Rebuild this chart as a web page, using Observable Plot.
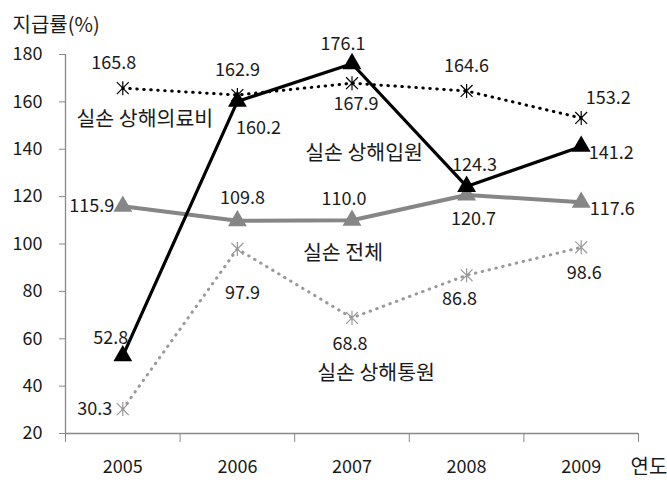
<!DOCTYPE html>
<html><head><meta charset="utf-8">
<script src="https://cdn.jsdelivr.net/npm/d3@7"></script>
<script src="https://cdn.jsdelivr.net/npm/@observablehq/plot@0.6"></script>
<style>body{margin:0;background:#fff}</style>
</head><body><div id="chart"></div>
<script>
// ---- data ----
const years = [2005, 2006, 2007, 2008, 2009];
const seriesNames = ["실손 상해의료비", "실손 상해입원", "실손 전체", "실손 상해통원"];
const medical = [165.8, 162.9, 167.9, 164.6, 153.2];
const inpatient = [52.8, 160.2, 176.1, 124.3, 141.2];
const total = [115.9, 109.8, 110.0, 120.7, 117.6];
const outpatient = [30.3, 97.9, 68.8, 86.8, 98.6];
const yTicks = [20, 40, 60, 80, 100, 120, 140, 160, 180];
const yTitle = "지급률(%)";
const xTitle = "연도";

// ---- presentation (label offsets, styles) ----
const valueOffsets = [
  [[-9,-25],[0,-25],[4,21],[0,-25],[27,-20]],
  [[-12,-18],[21,27],[-9,-20],[8,-21],[30,7]],
  [[-31,0],[5,-23],[-8,-21],[7,24],[31,7]],
  [[-28,0],[5,44],[-2,26],[-7,24],[3,26]]
];
const nameAnchors = [[0, 22, 31], [2, 12, 90], [2, -9, 33], [2, 24, 56]]; // [index, dx, dy]

// Excel-like star marker: X plus vertical stroke
const starSymbol = {
  draw(context, size) {
    const r = Math.sqrt(size / Math.PI);
    const d = r * 0.85;
    context.moveTo(0, -r); context.lineTo(0, r);
    context.moveTo(-d, -d); context.lineTo(d, d);
    context.moveTo(-d, d); context.lineTo(d, -d);
  }
};

const styles = [
  {stroke: "#000", width: 3, dash: "0.5 6.5", symbol: starSymbol, r: 7, fill: "none", mstroke: "#000"},
  {stroke: "#000", width: 3.2, dash: null, symbol: "triangle", r: 7, fill: "#000", mstroke: "none"},
  {stroke: "#868686", width: 4, dash: null, symbol: "triangle", r: 7, fill: "#868686", mstroke: "none"},
  {stroke: "#9a9a9a", width: 3, dash: "0.5 6.5", symbol: starSymbol, r: 7, fill: "none", mstroke: "#9a9a9a"}
];

const seriesValues = [medical, inpatient, total, outpatient];
const tables = seriesValues.map((vals, s) => years.map((yr, i) => ({year: yr, value: vals[i], series: seriesNames[s]})));
const boundaries = [...years.map(y => y - 0.5), years[years.length - 1] + 0.5];

const textColor = "#1a1a1a";
const marks = [];
// axis lines
marks.push(Plot.ruleY([yTicks[0]], {stroke: "#888", strokeWidth: 1.3}));
marks.push(Plot.ruleX([boundaries[0]], {stroke: "#888", strokeWidth: 1.3}));
marks.push(Plot.axisY({ticks: yTicks, tickSize: 6, tickPadding: 17, fontSize: 18, stroke: "#888", color: textColor, label: null}));
marks.push(Plot.axisX({ticks: boundaries, tickSize: 9, tickFormat: () => "", stroke: "#888", label: null}));
marks.push(Plot.axisX({ticks: years, tickSize: 0, tickPadding: 27, tickFormat: d => String(d), fontSize: 18, color: textColor, label: null}));

// draw order: outpatient, total, medical, inpatient
[3, 2, 0, 1].forEach(s => {
  const st = styles[s];
  marks.push(Plot.line(tables[s], {x: "year", y: "value", stroke: st.stroke, strokeWidth: st.width,
    strokeDasharray: st.dash, strokeLinecap: st.dash ? "round" : "butt", strokeLinejoin: "miter"}));
  marks.push(Plot.dot(tables[s], {x: "year", y: "value", symbol: st.symbol, r: st.r,
    fill: st.fill, stroke: st.mstroke, strokeWidth: 1.2}));
});

// value labels
tables.forEach((tbl, s) => {
  tbl.forEach((d, i) => {
    const [dx, dy] = valueOffsets[s][i];
    marks.push(Plot.text([d], {x: "year", y: "value", text: dd => dd.value.toFixed(1), dx, dy,
      fontSize: 18, fill: textColor}));
  });
});

// series names
nameAnchors.forEach(([i, dx, dy], s) => {
  marks.push(Plot.text([tables[s][i]], {x: "year", y: "value", text: "series", dx, dy,
    fontSize: 20.5, fill: textColor}));
});

// titles
marks.push(Plot.text([yTitle], {frameAnchor: "top-left", text: d => d, dx: -53, dy: -29, textAnchor: "start", fontSize: 20, fill: textColor, lineAnchor: "middle"}));
marks.push(Plot.text([xTitle], {frameAnchor: "bottom-right", text: d => d, dx: -8, dy: 34, textAnchor: "start", fontSize: 20, fill: textColor, lineAnchor: "middle"}));

const chart = Plot.plot({
  width: 667,
  height: 480,
  marginLeft: 65,
  marginRight: 29,
  marginTop: 54,
  marginBottom: 47,
  style: {fontFamily: "'Noto Sans CJK KR', 'Noto Sans', sans-serif", background: "#fff", overflow: "visible"},
  x: {type: "linear", domain: [boundaries[0], boundaries[boundaries.length - 1]]},
  y: {domain: [yTicks[0], yTicks[yTicks.length - 1]]},
  marks
});
document.getElementById("chart").appendChild(chart);
</script>
</body></html>
